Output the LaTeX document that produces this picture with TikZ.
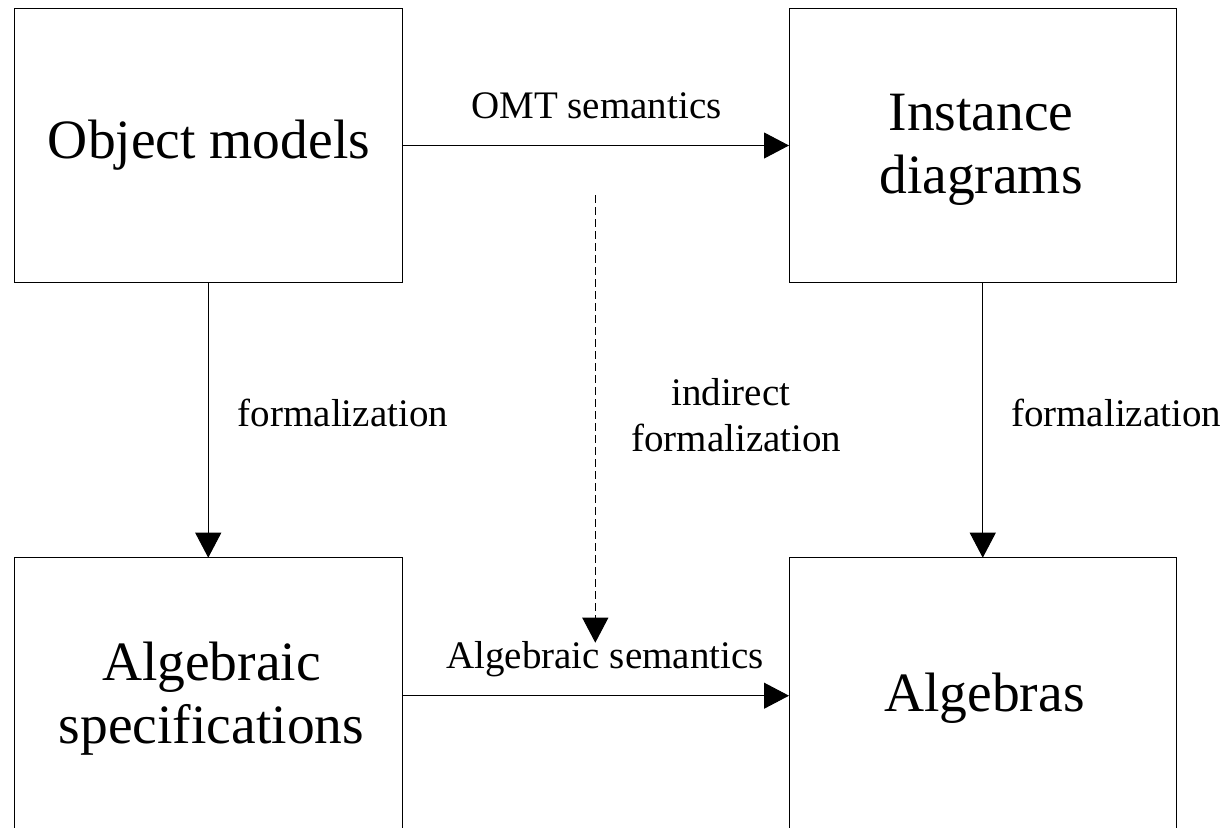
\documentclass[tikz,border=0pt]{standalone}
\usepackage{fontspec}
\setmainfont{Liberation Serif}
\usetikzlibrary{arrows.meta}
\begin{document}
\begin{tikzpicture}[x=1pt,y=-1pt,
  box/.style={draw=black, line width=1pt, minimum width=387.5pt, minimum height=274.4pt, inner sep=0pt, outer sep=0pt, anchor=north west},
  big/.style={font=\fontsize{55.5}{63}\selectfont, anchor=base, inner sep=0pt, align=center},
  lab/.style={font=\fontsize{39}{46.7}\selectfont, anchor=base, inner sep=0pt, align=center},
  arr/.style={line width=1pt, -{Triangle[length=25pt,width=26pt]}},
  dsh/.style={dash pattern=on 8pt off 4pt},
]
\clip (0,0) rectangle (1230,827);
\fill[white] (0,0) rectangle (1230,827);
% boxes
\node[box] (om) at (14.5,8.3) {};
\node[box] (id) at (789,8.3) {};
\node[box, minimum height=276pt] (as) at (14.5,557.7) {};
\node[box, minimum height=276pt] (al) at (789,557.7) {};
% box texts (base anchor = baseline of the last line)
\node[big] (tom) at (209,158.3) {Object models};
\node[big] (tid) at (981,193) {Instance\\diagrams};
\node[big] (tas) at (211.5,743) {Algebraic\\specifications};
\node[big] (tal) at (984.5,711.7) {Algebras};
% connectors
\draw[arr] (om.east) -- node[lab, xshift=1pt, yshift=27.5pt] (l1) {OMT semantics} (id.west);
\draw[arr] (om.south) -- node[lab, xshift=134.7pt, yshift=-6.5pt] (l2) {formalization} (as.north);
\draw[arr] (id.south) -- node[lab, xshift=133.3pt, yshift=-6.5pt] (l3) {formalization} (al.north);
\draw[arr] (as.east) -- node[lab, xshift=9.5pt, yshift=27.7pt] (l4) {Algebraic semantics} (al.west);
\coordinate (ds) at (595.3,195);
\coordinate (de) at (595.3,642.7);
\draw[arr, dsh] (ds) -- node[lab, xshift=141pt, yshift=-32.85pt] (l5) {indirect\hspace*{11pt}\\formalization} (de);
\end{tikzpicture}
\end{document}
